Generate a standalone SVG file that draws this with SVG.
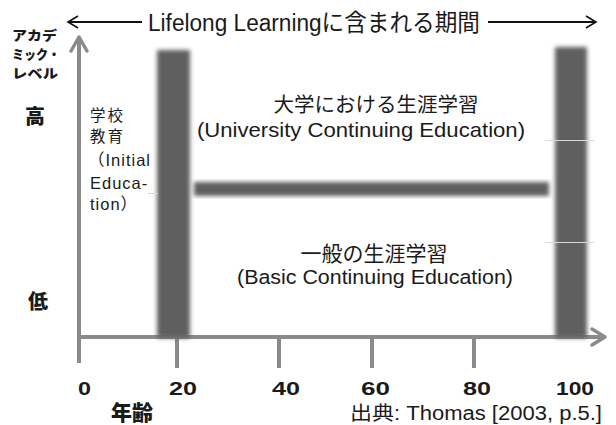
<svg xmlns="http://www.w3.org/2000/svg" width="616" height="425" viewBox="0 0 616 425">
  <defs>
    <style>
      .lat { font-family: "Liberation Sans", "Noto Sans CJK JP", sans-serif; fill: #1a1a1a; }
      .jp { font-family: "Noto Sans CJK JP", "Liberation Sans", sans-serif; fill: #1a1a1a; }
      .bold { font-weight: 900; }
      .axis { stroke: #8a8a8a; stroke-width: 4; fill: none; }
      .tick { stroke: #8a8a8a; stroke-width: 4; }
      .head { stroke: #8a8a8a; stroke-width: 3.5; fill: none; stroke-linecap: round; stroke-linejoin: round; }
      .span { stroke: #111; stroke-width: 2; fill: none; }
      .spanhead { stroke: #111; stroke-width: 1.6; fill: none; }
      .bar { fill: #5e5e5e; filter: url(#soft); }
      .ghost { stroke: #d8d8d8; stroke-width: 1; }
    </style>
    <filter id="soft" x="-20%" y="-20%" width="140%" height="140%">
      <feGaussianBlur stdDeviation="2"/>
    </filter>
  </defs>

  <!-- period span arrow across the top -->
  <g id="span">
    <line class="span" x1="68" y1="22" x2="142" y2="22"/>
    <polyline class="spanhead" points="78,16 68,22 78,28"/>
    <line class="span" x1="488" y1="22" x2="596" y2="22"/>
    <polyline class="spanhead" points="586,16 596,22 586,28"/>
    <text class="lat" x="148" y="31" font-size="23.5" textLength="332" lengthAdjust="spacingAndGlyphs">Lifelong Learningに含まれる期間</text>
  </g>

  <!-- axes and ticks -->
  <g id="connectors">
    <line class="axis" x1="79" y1="38" x2="79" y2="363"/>
    <polyline class="head" points="71,51 79,37 87,51"/>
    <line class="axis" x1="77" y1="337" x2="603" y2="337"/>
    <polyline class="head" points="592,329 605,337 592,345"/>
    <line class="tick" x1="177" y1="337" x2="177" y2="368"/>
    <line class="tick" x1="279" y1="337" x2="279" y2="368"/>
    <line class="tick" x1="372" y1="337" x2="372" y2="368"/>
    <line class="tick" x1="474" y1="337" x2="474" y2="368"/>
  </g>

  <!-- schooling and university bars -->
  <g id="bar-school">
    <rect class="bar" x="157" y="50" width="33" height="288"/>
  </g>
  <g id="bar-university">
    <rect class="bar" x="555" y="47" width="32" height="291"/>
  </g>
  <g id="bar-continuing">
    <rect class="bar" x="194" y="182" width="355" height="14"/>
  </g>
  <g id="ghost-lines">
    <line class="ghost" x1="148" y1="193.5" x2="158" y2="193.5"/>
    <line class="ghost" x1="545" y1="140.5" x2="594" y2="140.5"/>
    <line class="ghost" x1="545" y1="242.5" x2="594" y2="242.5"/>
  </g>

  <!-- vertical axis labels -->
  <g id="label-level">
    <text class="jp bold" x="12" y="40" font-size="13" textLength="45" lengthAdjust="spacingAndGlyphs">アカデ</text>
    <text class="jp bold" x="12" y="59" font-size="13" textLength="48" lengthAdjust="spacingAndGlyphs">ミック・</text>
    <text class="jp bold" x="12" y="78" font-size="13" textLength="46" lengthAdjust="spacingAndGlyphs">レベル</text>
  </g>
  <g id="label-high">
    <text class="jp bold" x="35" y="124" font-size="20" text-anchor="middle">高</text>
  </g>
  <g id="label-low">
    <text class="jp bold" x="38" y="309" font-size="20" text-anchor="middle">低</text>
  </g>

  <!-- initial education -->
  <g id="initial-education">
    <text class="jp" x="90" y="121" font-size="15.5" letter-spacing="2">学校</text>
    <text class="jp" x="90" y="142" font-size="15.5" letter-spacing="2">教育</text>
    <text class="lat" x="88" y="166" font-size="16.5" letter-spacing="1">（Initial</text>
    <text class="lat" x="90" y="189" font-size="16.5" letter-spacing="1">Educa-</text>
    <text class="lat" x="90" y="210" font-size="16.5" letter-spacing="1">tion）</text>
  </g>

  <!-- university continuing education -->
  <g id="university-continuing">
    <text class="jp" x="376" y="112" font-size="20.5" text-anchor="middle">大学における生涯学習</text>
    <text class="lat" x="197" y="137" font-size="21" textLength="328" lengthAdjust="spacingAndGlyphs">(University Continuing Education)</text>
  </g>

  <!-- basic continuing education -->
  <g id="basic-continuing">
    <text class="jp" x="374" y="261" font-size="21" text-anchor="middle">一般の生涯学習</text>
    <text class="lat" x="237" y="284" font-size="20.5" textLength="276" lengthAdjust="spacingAndGlyphs">(Basic Continuing Education)</text>
  </g>

  <!-- age scale -->
  <g id="age-labels">
    <text class="lat bold" x="78" y="395" font-size="19" textLength="13" lengthAdjust="spacingAndGlyphs">0</text>
    <text class="lat bold" x="169" y="395" font-size="19" textLength="28" lengthAdjust="spacingAndGlyphs">20</text>
    <text class="lat bold" x="272" y="395" font-size="19" textLength="28" lengthAdjust="spacingAndGlyphs">40</text>
    <text class="lat bold" x="361" y="395" font-size="19" textLength="29" lengthAdjust="spacingAndGlyphs">60</text>
    <text class="lat bold" x="463" y="395" font-size="19" textLength="28" lengthAdjust="spacingAndGlyphs">80</text>
    <text class="lat bold" x="556" y="395" font-size="19" textLength="38" lengthAdjust="spacingAndGlyphs">100</text>
  </g>
  <g id="label-age">
    <text class="jp bold" x="132" y="420" font-size="21" text-anchor="middle">年齢</text>
  </g>
  <g id="source">
    <text class="lat" x="350" y="420" font-size="19.5" textLength="252" lengthAdjust="spacingAndGlyphs">出典: Thomas [2003, p.5.]</text>
  </g>
</svg>
